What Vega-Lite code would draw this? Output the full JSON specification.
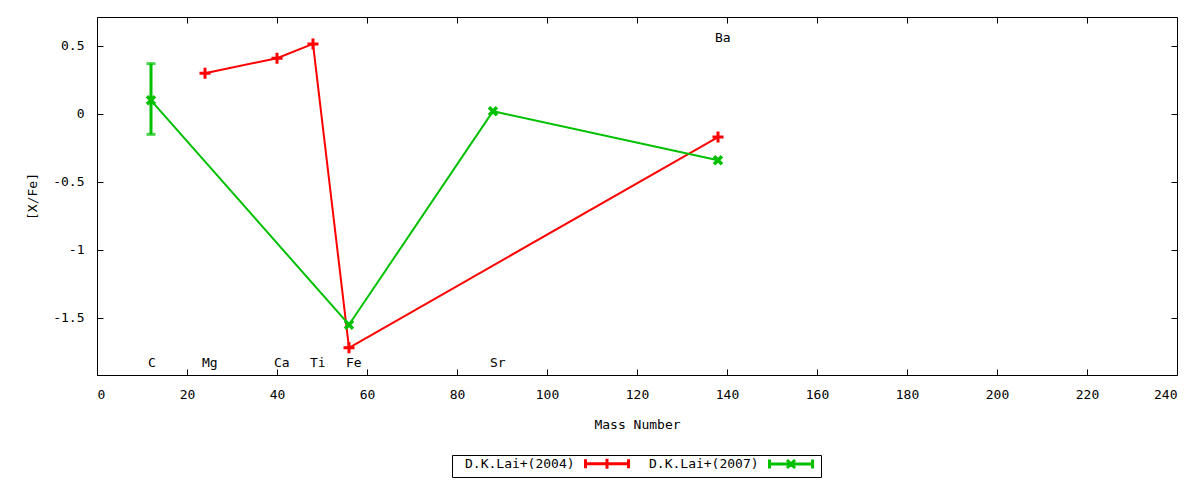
{
  "$schema": "https://vega.github.io/schema/vega-lite/v6.json",
  "width": 1080,
  "height": 358,
  "autosize": {"type": "none"},
  "padding": {"left": 97, "top": 17, "right": 23, "bottom": 105},
  "background": "white",
  "config": {
    "font": "DejaVu Sans Mono",
    "view": {"stroke": "black", "strokeWidth": 1},
    "axis": {
      "grid": false,
      "domain": false,
      "tickColor": "black",
      "tickSize": -6,
      "tickWidth": 1,
      "labelColor": "black",
      "labelFontSize": 13,
      "labelFont": "DejaVu Sans Mono",
      "titleColor": "black",
      "titleFont": "DejaVu Sans Mono",
      "titleFontSize": 13,
      "titleFontWeight": "normal"
    },
    "legend": {
      "labelFont": "DejaVu Sans Mono",
      "labelFontSize": 13,
      "labelColor": "black"
    }
  },
  "datasets": {
    "pts": [
      {"series": "D.K.Lai+(2004)", "element": "Mg", "mass": 24, "xfe": 0.30},
      {"series": "D.K.Lai+(2004)", "element": "Ca", "mass": 40, "xfe": 0.41},
      {"series": "D.K.Lai+(2004)", "element": "Ti", "mass": 48, "xfe": 0.515},
      {"series": "D.K.Lai+(2004)", "element": "Fe", "mass": 56, "xfe": -1.72},
      {"series": "D.K.Lai+(2004)", "element": "Ba", "mass": 138, "xfe": -0.17},
      {"series": "D.K.Lai+(2007)", "element": "C", "mass": 12, "xfe": 0.10, "lo": -0.15, "hi": 0.37},
      {"series": "D.K.Lai+(2007)", "element": "Fe", "mass": 56, "xfe": -1.55},
      {"series": "D.K.Lai+(2007)", "element": "Sr", "mass": 88, "xfe": 0.02},
      {"series": "D.K.Lai+(2007)", "element": "Ba", "mass": 138, "xfe": -0.34}
    ],
    "labels": [
      {"element": "C", "mass": 12, "ypos": -1.83},
      {"element": "Mg", "mass": 24, "ypos": -1.83},
      {"element": "Ca", "mass": 40, "ypos": -1.83},
      {"element": "Ti", "mass": 48, "ypos": -1.83},
      {"element": "Fe", "mass": 56, "ypos": -1.83},
      {"element": "Sr", "mass": 88, "ypos": -1.83},
      {"element": "Ba", "mass": 138, "ypos": 0.555}
    ]
  },
  "resolve": {"axis": {"x": "independent", "y": "independent"}},
  "layer": [
    {
      "data": {"name": "pts"},
      "mark": {"type": "line", "strokeWidth": 2},
      "encoding": {
        "x": {"field": "mass", "type": "quantitative", "scale": {"domain": [0, 240], "nice": false, "zero": false},
              "axis": {"orient": "bottom", "values": [0,20,40,60,80,100,120,140,160,180,200,220,240], "title": "Mass Number", "labelPadding": 19, "titlePadding": 17}},
        "y": {"field": "xfe", "type": "quantitative", "scale": {"domain": [-1.92, 0.713], "nice": false, "zero": false},
              "axis": {"orient": "left", "values": [-1.5,-1,-0.5,0,0.5], "labelExpr": "'' + datum.value", "title": "[X/Fe]", "labelPadding": 19, "titlePadding": 13}},
        "color": {
          "field": "series", "type": "nominal",
          "scale": {"domain": ["D.K.Lai+(2004)", "D.K.Lai+(2007)"], "range": ["#ff0000", "#00c000"]},
          "legend": {
            "orient": "none", "legendX": 355, "legendY": 438,
            "direction": "horizontal", "title": null,
            "strokeColor": "black", "padding": 2,
            "symbolType": "M125,0L168,0M125,-4.5L125,4.5M168,-4.5L168,4.5M146.5,-5L146.5,5M141.5,0L151.5,0",
            "symbolSize": 4, "symbolStrokeWidth": 3,
            "labelAlign": "left", "labelOffset": -2, "columnPadding": 3,
            "encode": {"symbols": {"update": {"shape": {"signal": "datum.value === 'D.K.Lai+(2004)' ? 'M125,0L168,0M125,-4.5L125,4.5M168,-4.5L168,4.5M146.5,-5L146.5,5M141.5,0L151.5,0' : 'M125,0L168,0M125,-4.5L125,4.5M168,-4.5L168,4.5M142.5,-4L150.5,4M142.5,4L150.5,-4'"}}}}
          }
        }
      }
    },
    {
      "data": {"name": "pts"},
      "mark": {"type": "errorbar", "thickness": 3, "ticks": {"size": 9, "thickness": 3}, "color": "#00c000"},
      "transform": [{"filter": "isValid(datum.lo)"}],
      "encoding": {
        "x": {"field": "mass", "type": "quantitative", "axis": null},
        "y": {"field": "lo", "type": "quantitative", "axis": null},
        "y2": {"field": "hi"}
      }
    },
    {
      "data": {"name": "pts"},
      "transform": [{"filter": "datum.series === 'D.K.Lai+(2004)'"}],
      "mark": {"type": "point", "shape": "M-1,0L1,0M0,-1L0,1", "size": 121, "strokeWidth": 3, "filled": false, "color": "#ff0000", "opacity": 1},
      "encoding": {
        "x": {"field": "mass", "type": "quantitative", "axis": null},
        "y": {"field": "xfe", "type": "quantitative", "axis": null}
      }
    },
    {
      "data": {"name": "pts"},
      "transform": [{"filter": "datum.series === 'D.K.Lai+(2007)'"}],
      "mark": {"type": "point", "shape": "M-1,-1L1,1M-1,1L1,-1", "size": 64, "strokeWidth": 3.5, "filled": false, "color": "#00c000", "opacity": 1},
      "encoding": {
        "x": {"field": "mass", "type": "quantitative", "axis": null},
        "y": {"field": "xfe", "type": "quantitative", "axis": null}
      }
    },
    {
      "data": {"name": "labels"},
      "mark": {"type": "text", "align": "left", "baseline": "middle", "dx": -3, "fontSize": 13, "font": "DejaVu Sans Mono", "color": "black"},
      "encoding": {
        "x": {"field": "mass", "type": "quantitative",
              "axis": {"orient": "top", "values": [0,20,40,60,80,100,120,140,160,180,200,220,240], "labels": false, "title": null}},
        "y": {"field": "ypos", "type": "quantitative",
              "axis": {"orient": "right", "values": [-1.5,-1,-0.5,0,0.5], "labels": false, "title": null}},
        "text": {"field": "element"}
      }
    }
  ]
}
